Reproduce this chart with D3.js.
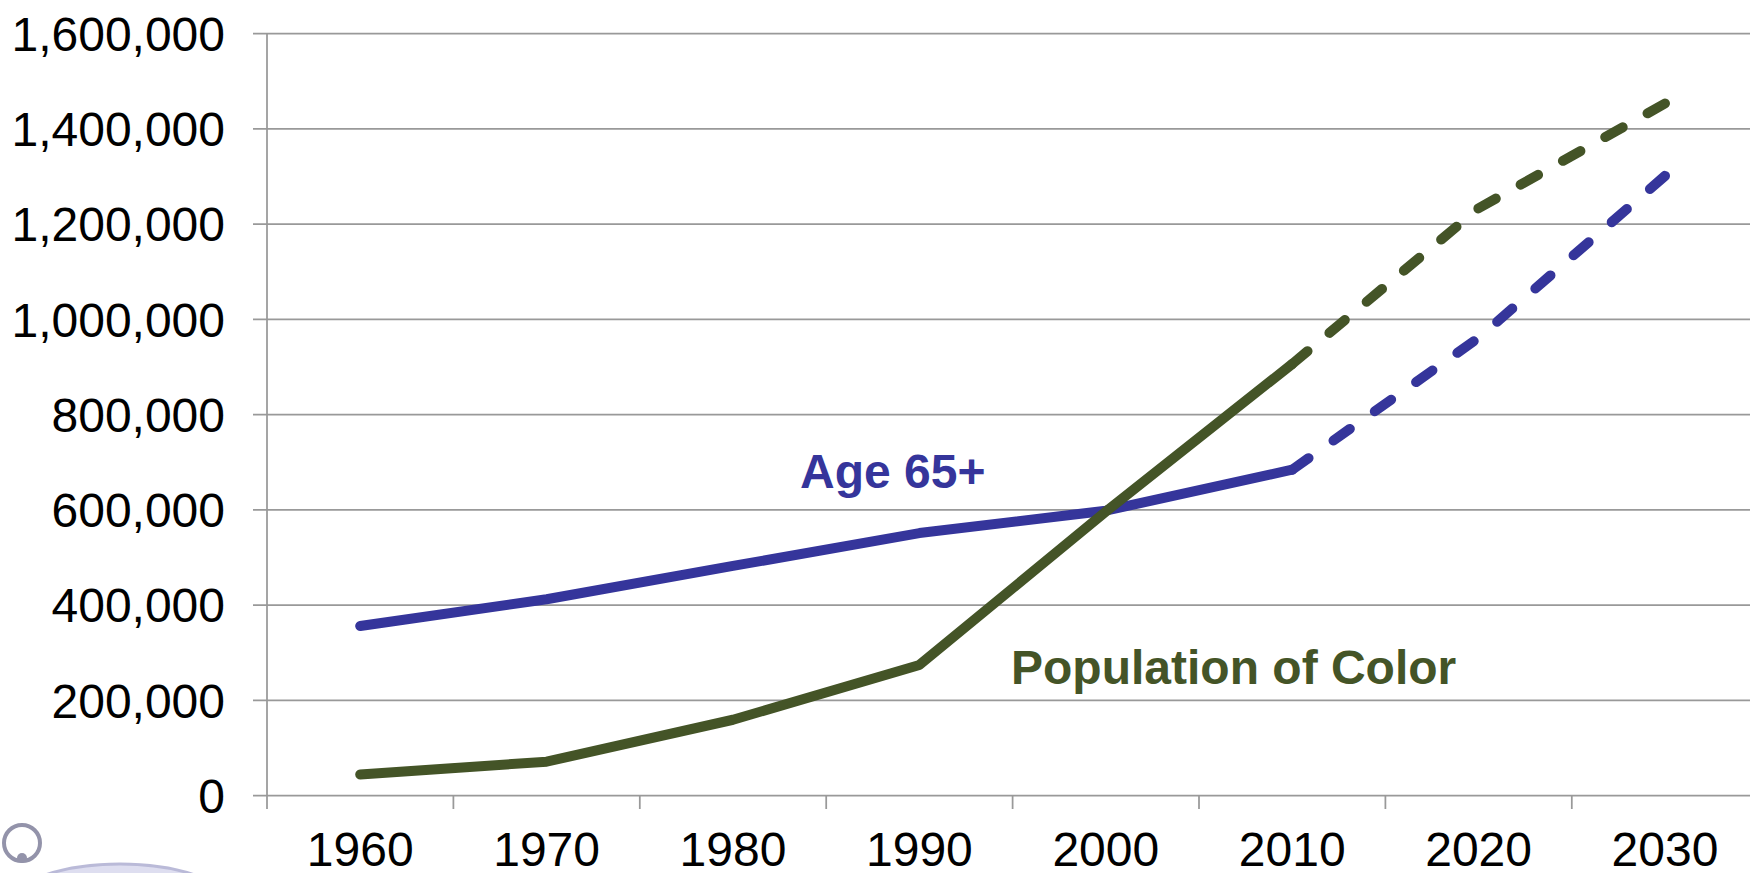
<!DOCTYPE html>
<html>
<head>
<meta charset="utf-8">
<script src="https://cdn.jsdelivr.net/npm/d3@7"></script>
<style>
  body { margin: 0; background: #fff; overflow: hidden; }
  svg { display: block; font-family: "Liberation Sans", Arial, sans-serif; }
</style>
</head>
<body>
<div id="chart"></div>
<script>
var years = ["1960", "1970", "1980", "1990", "2000", "2010", "2020", "2030"];
var age65 = [355000, 411000, 481000, 550000, 597000, 683000, 960000, 1300000];
var popColor = [43000, 70000, 158000, 273000, 595000, 905000, 1232000, 1452000];
var yTicks = [0, 200000, 400000, 600000, 800000, 1000000, 1200000, 1400000, 1600000];
var projectedFrom = "2010";

var W = 1750, H = 873;
var margin = {top: 33, left: 267, bottom: 78};
var width = 8 * 186.4, height = 795 - margin.top;

var svg = d3.select("#chart").append("svg")
    .attr("width", W)
    .attr("height", H);

var g = svg.append("g")
    .attr("transform", "translate(" + margin.left + "," + margin.top + ")");

var x = d3.scaleBand().domain(years).range([0, width]);
var y = d3.scaleLinear().domain([0, 1600000]).range([height, 0]);

// gridlines + y labels
var yAxis = d3.axisLeft(y)
    .tickValues(yTicks)
    .tickSize(-width)
    .tickPadding(42)
    .tickFormat(d3.format(","));

var yg = g.append("g").attr("class", "y axis").call(yAxis);
yg.select(".domain").remove();
yg.selectAll(".tick line")
    .attr("x1", -14)
    .attr("stroke", "#999")
    .attr("stroke-width", 1.75);
yg.selectAll(".tick text")
    .attr("dy", "0.36em")
    .style("font-size", "48px")
    .style("fill", "#000");

// vertical axis line
g.append("line")
    .attr("x1", 0).attr("x2", 0)
    .attr("y1", y(1600000)).attr("y2", height + 14)
    .attr("stroke", "#999")
    .attr("stroke-width", 1.75);

// x labels
var xAxis = d3.axisBottom(x).tickSize(0).tickPadding(37);
var xg = g.append("g")
    .attr("class", "x axis")
    .attr("transform", "translate(0," + height + ")")
    .call(xAxis);
xg.select(".domain").remove();
xg.selectAll(".tick text")
    .style("font-size", "48px")
    .style("fill", "#000");

// boundary ticks between categories
g.selectAll(".btick")
    .data(years.slice(1))
  .enter().append("line")
    .attr("class", "btick")
    .attr("x1", function(d){ return x(d); })
    .attr("x2", function(d){ return x(d); })
    .attr("y1", height)
    .attr("y2", height + 14)
    .attr("stroke", "#999")
    .attr("stroke-width", 1.75);

var line = d3.line()
    .x(function(d){ return x(d.year) + x.bandwidth() / 2; })
    .y(function(d){ return y(d.value); });

var series = [
  {name: "age", values: age65, color: "#35359b"},
  {name: "color", values: popColor, color: "#445427"}
];

var cut = years.indexOf(projectedFrom);
var dash = 20, gap = 28;

series.forEach(function(s){
  var pts = years.map(function(yr, i){ return {year: yr, value: s.values[i]}; });
  g.append("path")
      .datum(pts.slice(0, cut + 1))
      .attr("d", line)
      .attr("fill", "none")
      .attr("stroke", s.color)
      .attr("stroke-width", 10)
      .attr("stroke-linecap", "round")
      .attr("stroke-linejoin", "round");
  var p = g.append("path")
      .datum(pts.slice(cut))
      .attr("d", line)
      .attr("fill", "none")
      .attr("stroke", s.color)
      .attr("stroke-width", 10)
      .attr("stroke-linecap", "round")
      .attr("stroke-linejoin", "round");
  // stretch the gap a little so the last dash lands on the end point
  var L = p.node().getTotalLength();
  var n = Math.round((L - dash) / (dash + gap));
  var g2 = (L - dash) / n - dash;
  p.attr("stroke-dasharray", dash + "," + g2.toFixed(2));
});

// series labels
svg.append("text")
    .attr("x", 800)
    .attr("y", 488)
    .style("font-size", "48px")
    .style("font-weight", "bold")
    .style("fill", "#35359b")
    .text("Age 65+");

svg.append("text")
    .attr("x", 1011)
    .attr("y", 684)
    .style("font-size", "48px")
    .style("font-weight", "bold")
    .style("fill", "#445427")
    .text("Population of Color");

// faint logo fragment bottom-left
var logo = svg.append("g").attr("opacity", 0.75);
logo.append("ellipse")
    .attr("cx", 120).attr("cy", 910)
    .attr("rx", 115).attr("ry", 46)
    .attr("fill", "#d4d4ec")
    .attr("stroke", "#a4a4cc")
    .attr("stroke-width", 3);
logo.append("circle")
    .attr("cx", 22).attr("cy", 843)
    .attr("r", 18)
    .attr("fill", "none")
    .attr("stroke", "#70708e")
    .attr("stroke-width", 4);
logo.append("circle")
    .attr("cx", 22).attr("cy", 858)
    .attr("r", 5)
    .attr("fill", "#70708e");
</script>
</body>
</html>
